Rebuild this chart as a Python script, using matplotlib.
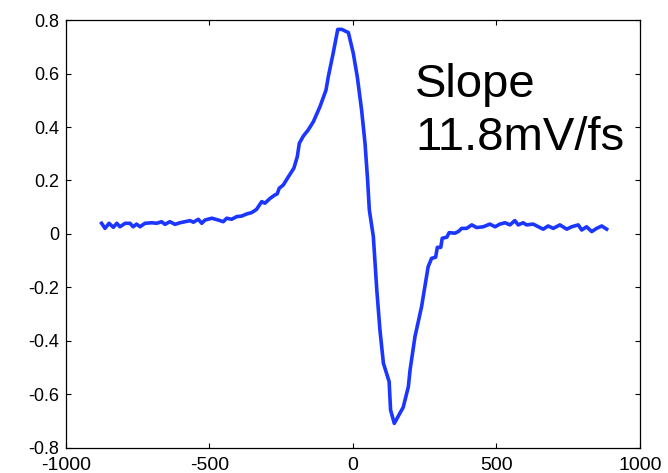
import matplotlib
matplotlib.use("Agg")
import matplotlib.pyplot as plt

# --- data (time delay in fs, signal in V) ---
delay = [
    -876, -864, -850, -835, -823, -812, -794, -777, -766, -754,
    -742, -725, -701, -684, -667, -655, -638, -620, -603, -585,
    -568, -556, -539, -527, -516, -492, -469, -452, -440, -423,
    -405, -388, -370, -353, -336, -318, -307, -289, -272, -264,
    -257, -243, -225, -206, -194, -187, -173, -156, -138, -115,
    -94, -86, -69, -53, -39, -16, 1, 15, 30, 42,
    51, 57, 71, 83, 94, 106, 126, 131, 144, 175,
    193, 199, 216, 239, 262, 274, 288, 294, 306, 311,
    327, 335, 355, 367, 379, 396, 414, 431, 454, 477,
    495, 512, 530, 547, 564, 576, 593, 605, 628, 646,
    663, 680, 698, 721, 745, 762, 785, 797, 814, 832,
    849, 867, 884,
]
signal = [
    0.040, 0.021, 0.040, 0.025, 0.040, 0.027, 0.040, 0.040, 0.027, 0.037,
    0.027, 0.040, 0.042, 0.040, 0.046, 0.036, 0.046, 0.036, 0.042, 0.046,
    0.050, 0.044, 0.055, 0.040, 0.052, 0.059, 0.052, 0.046, 0.059, 0.055,
    0.065, 0.067, 0.075, 0.080, 0.092, 0.121, 0.115, 0.133, 0.146, 0.150,
    0.171, 0.183, 0.214, 0.246, 0.289, 0.339, 0.366, 0.389, 0.420, 0.476,
    0.538, 0.588, 0.676, 0.765, 0.765, 0.753, 0.676, 0.588, 0.464, 0.339,
    0.202, 0.090, -0.010, -0.209, -0.359, -0.483, -0.552, -0.658, -0.708, -0.648,
    -0.571, -0.508, -0.384, -0.272, -0.122, -0.091, -0.087, -0.050, -0.050, -0.016,
    -0.012, 0.005, 0.003, 0.009, 0.021, 0.021, 0.034, 0.024, 0.027, 0.037,
    0.027, 0.037, 0.042, 0.034, 0.050, 0.034, 0.042, 0.034, 0.037, 0.027,
    0.018, 0.030, 0.021, 0.034, 0.018, 0.027, 0.034, 0.015, 0.027, 0.009,
    0.021, 0.030, 0.018,
]

xticks = [-1000, -500, 0, 500, 1000]
yticks = [-0.8, -0.6, -0.4, -0.2, 0, 0.2, 0.4, 0.6, 0.8]
ytick_labels = ["-0.8", "-0.6", "-0.4", "-0.2", "0", "0.2", "0.4", "0.6", "0.8"]

plt.rcParams["font.family"] = ["Liberation Sans", "DejaVu Sans"]

fig = plt.figure(figsize=(6.68, 4.73), dpi=100)
ax = fig.add_axes([0.0988, 0.0529, 0.8592, 0.9048])

ax.plot(delay, signal, color="#1a36ff", lw=2.6, solid_joinstyle="round")

ax.set_xlim(-1000, 1000)
ax.set_ylim(-0.8, 0.8)
ax.set_xticks(xticks)
ax.set_xticklabels([str(t) for t in xticks], fontsize=14)
ax.set_yticks(yticks)
ax.set_yticklabels(ytick_labels, fontsize=13)
ax.tick_params(direction="in", length=3.5, width=0.8, top=True, right=True)
ax.tick_params(axis="x", pad=6.5)
ax.tick_params(axis="y", pad=5)
for s in ax.spines.values():
    s.set_linewidth(0.9)

# annotation
ax.text(0.608, 0.820, "Slope", transform=ax.transAxes, fontsize=34,
        ha="left", va="baseline")
ax.text(0.608, 0.696, "11.8mV/fs", transform=ax.transAxes, fontsize=34,
        ha="left", va="baseline")

fig.savefig("out.png", dpi=100)
